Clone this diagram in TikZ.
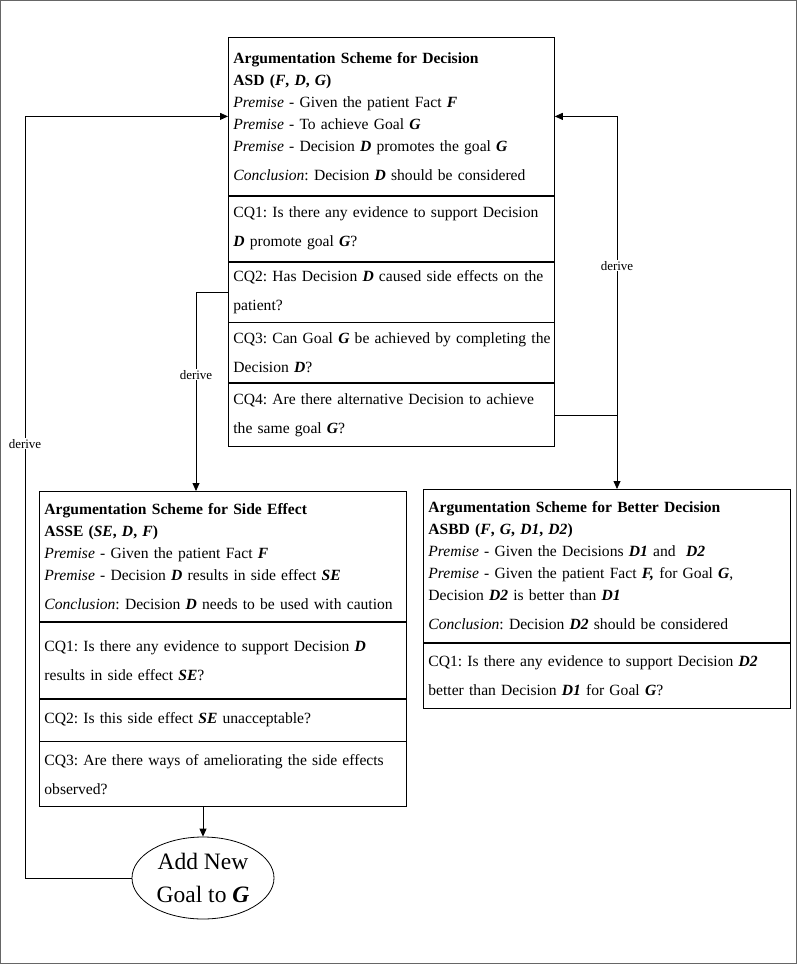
\documentclass[tikz,border=0pt]{standalone}
\usepackage{fontspec}
\setmainfont{Liberation Serif}
\usetikzlibrary{positioning, arrows.meta, shapes.geometric}

\newcommand{\bi}[1]{\textbf{\textit{#1}}}

\begin{document}
\begin{tikzpicture}[x=1pt, y=-1pt,
    sect/.style={draw, line width=0.8pt, rectangle, align=left, inner xsep=5pt, inner ysep=2pt,
        font=\fontsize{15.6}{22}\selectfont\frenchspacing},
    wide/.style={sect, text width=316pt},
    narrow/.style={sect, text width=357pt},
    arr/.style={line width=0.8pt, -{Triangle[length=8pt, width=7pt]}},
    lbl/.style={fill=white, inner sep=1pt, font=\fontsize{13}{15}\selectfont}]

    % Frame
    \useasboundingbox (0,0) rectangle (797,964);
    \draw[line width=1pt, black!60] (0.5,0.5) rectangle (796.5,963.5);

    % Scheme for decision
    \node[wide, minimum height=158pt, anchor=north west] (asd) at (228,37) {%
        \textbf{Argumentation Scheme for Decision}\\
        \textbf{ASD (\textit{F}, \textit{D}, \textit{G})}\\
        \textit{Premise} - Given the patient Fact \bi{F}\\
        \textit{Premise} - To achieve Goal \bi{G}\\
        \textit{Premise} - Decision \bi{D} promotes the goal \bi{G}\\[7pt]
        \mbox{\textit{Conclusion}: Decision \bi{D} should be considered}};
    \node[wide, minimum height=65pt, below=0pt of asd] (asdcq1) {%
        \mbox{CQ1: Is there any evidence to support Decision}\\[7pt]
        \bi{D} promote goal \bi{G}?};
    \node[wide, minimum height=60pt, below=0pt of asdcq1] (asdcq2) {%
        \mbox{CQ2: Has Decision \bi{D} caused side effects on the}\\[7pt]
        patient?};
    \node[wide, minimum height=60pt, below=0pt of asdcq2] (asdcq3) {%
        \mbox{CQ3: Can Goal \bi{G} be achieved by completing the}\\[7pt]
        Decision \bi{D}?};
    \node[wide, minimum height=63pt, below=0pt of asdcq3] (asdcq4) {%
        \mbox{CQ4: Are there alternative Decision to achieve}\\[7pt]
        the same goal \bi{G}?};

    % Scheme for side effect
    \node[narrow, minimum height=130pt, anchor=north west] (asse) at (39,491) {%
        \textbf{Argumentation Scheme for Side Effect}\\
        \textbf{ASSE (\textit{SE}, \textit{D}, \textit{F})}\\
        \textit{Premise} - Given the patient Fact \bi{F}\\
        \textit{Premise} - Decision \bi{D} results in side effect \bi{SE}\\[7pt]
        \mbox{\textit{Conclusion}: Decision \bi{D} needs to be used with caution}};
    \node[narrow, minimum height=76pt, below=0pt of asse] (assecq1) {%
        \mbox{CQ1: Is there any evidence to support Decision \bi{D}}\\[7pt]
        results in side effect \bi{SE}?};
    \node[narrow, minimum height=42pt, below=0pt of assecq1] (assecq2) {%
        CQ2: Is this side effect \bi{SE} unacceptable?};
    \node[narrow, minimum height=65pt, below=0pt of assecq2] (assecq3) {%
        \mbox{CQ3: Are there ways of ameliorating the side effects}\\[7pt]
        observed?};

    % Scheme for better decision
    \node[narrow, minimum height=153pt, anchor=north west] (asbd) at (423,489) {%
        \textbf{Argumentation Scheme for Better Decision}\\
        \textbf{ASBD (\textit{F}, \textit{G}, \textit{D1}, \textit{D2})}\\
        \textit{Premise} - Given the Decisions \bi{D1} and~ \bi{D2}\\
        \mbox{\textit{Premise} - Given the patient Fact \bi{F,} for Goal \bi{G},}\\
        Decision \bi{D2} is better than \bi{D1}\\[7pt]
        \mbox{\textit{Conclusion}: Decision \bi{D2} should be considered}};
    \node[narrow, minimum height=65pt, below=0pt of asbd] (asbdcq1) {%
        \mbox{CQ1: Is there any evidence to support Decision \bi{D2}}\\[7pt]
        better than Decision \bi{D1} for Goal \bi{G}?};

    % New goal
    \node[ellipse, draw, line width=0.8pt, minimum width=142pt, minimum height=82pt, inner sep=0pt,
        align=center, font=\fontsize{23.5}{33}\selectfont] (goal) at (203,878) {Add New\\Goal to \bi{G}};

    % Columns of the connectors
    \coordinate (lft) at (25,0);
    \coordinate (mid) at (196,0);
    \coordinate (rgt) at (617,0);

    % Connectors
    \draw[arr] (assecq3.south -| goal.north) -- (goal.north);
    \draw[arr] (goal.west) -- (goal.west -| lft) -- node[lbl, pos=0.57] {derive} (asd.west -| lft) -- (asd.west);
    \draw[arr] (asdcq2.west) -- (asdcq2.west -| mid) -- node[lbl, pos=0.415] {derive} (asse.north -| mid);
    \draw[arr] (asdcq4.east) -- (asdcq4.east -| rgt) -- node[lbl] {derive} (asd.east -| rgt) -- (asd.east);
    \draw[arr] (asdcq4.east -| rgt) -- (asbd.north -| rgt);

\end{tikzpicture}
\end{document}
